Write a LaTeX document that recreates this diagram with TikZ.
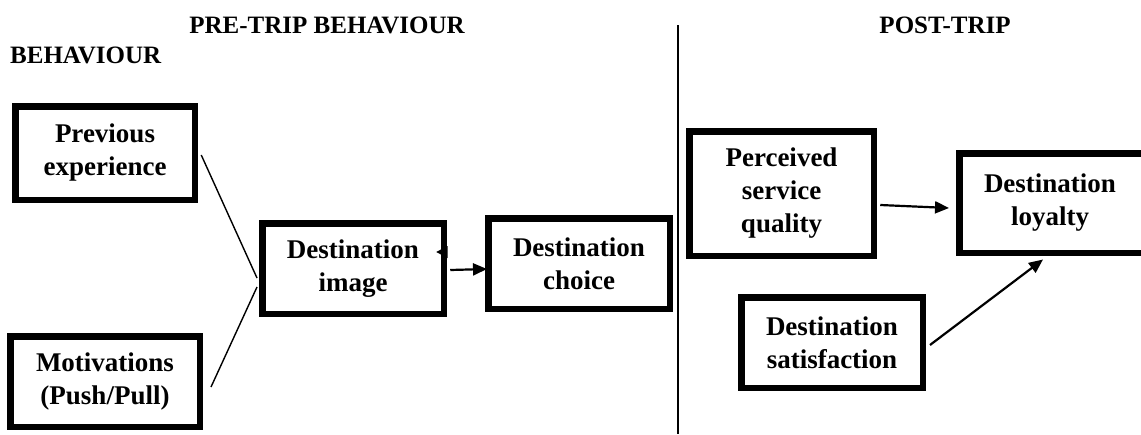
\documentclass[tikz,border=0pt]{standalone}
\usepackage{fontspec}
\setmainfont{Liberation Serif}
\usetikzlibrary{calc,arrows.meta}

\begin{document}
\begin{tikzpicture}[x=1pt,y=-1pt,
  box/.style={draw=black, line width=6.5pt, rectangle, inner sep=0pt,
    align=center, font=\fontsize{27}{33}\selectfont\bfseries},
  heading/.style={inner sep=0pt, font=\fontsize{25}{30}\selectfont\bfseries},
  plain/.style={line width=1.4pt},
  arrow/.style={line width=2.2pt, -{Triangle[length=14pt,width=12pt]}},
  divider/.style={line width=1.2pt}]

\useasboundingbox (0,0) rectangle (1141,434);

% section headings
\node[heading, anchor=base] (pre) at (327,33) {PRE-TRIP BEHAVIOUR};
\node[heading, anchor=base west] (beh) at (10,63) {BEHAVIOUR};
\node[heading, anchor=base] (post) at (945,33) {POST-TRIP};

% divider between the two phases
\coordinate (divtop) at (678,25);
\coordinate (divbot) at (678,434);
\draw[divider] (divtop) -- (divbot);

% pre-trip constructs
\node[box, minimum width=179.5, minimum height=93.5] (prev) at (105,153) {Previous\\experience};
\node[box, minimum width=189.5, minimum height=90.5] (motiv) at (105,381.5) {Motivations\\(Push/Pull)};
\node[box, minimum width=181.5, minimum height=90.5] (img) at (353,268.5) {Destination\\image};
\node[box, minimum width=181.5, minimum height=90.5] (choice) at (579,263.5) {Destination\\choice};

% post-trip constructs
\node[box, minimum width=184.5, minimum height=124.5] (percv) at (781.5,193.5) {Perceived\\service\\quality};
\node[box, minimum width=193.5, minimum height=99.5, text width=181.5] (loyal) at (1056,203) {\hspace*{-12pt}Destination\\\hspace*{-12pt}loyalty};
\node[box, minimum width=181.5, minimum height=90.5] (satis) at (832,342.5) {Destination\\satisfaction};

% links into destination image
\draw[plain] ($(prev.east)+(3.25,2)$) -- ($(img.west)+(-2,9.5)$);
\draw[plain] ($(motiv.east)+(8,5.5)$) -- ($(img.west)+(-2,18.5)$);

% image -> choice
\draw[arrow] ($(img.east)+(3.25,1.5)$) -- ($(choice.west)+(2,5.5)$);
% small head on the image border
\fill ($(img.east)+(-10.75,-16.5)$) -- ($(img.east)+(0.5,-22.5)$) -- ($(img.east)+(0.5,-10.5)$) -- cycle;

% post-trip links
\draw[arrow] ($(percv.east)+(3.25,11.5)$) -- ($(loyal.west)+(-7,5)$);
\draw[arrow] ($(satis.east)+(4,2.5)$) -- ($(loyal.south)+(-13,3.5)$);

\end{tikzpicture}
\end{document}
